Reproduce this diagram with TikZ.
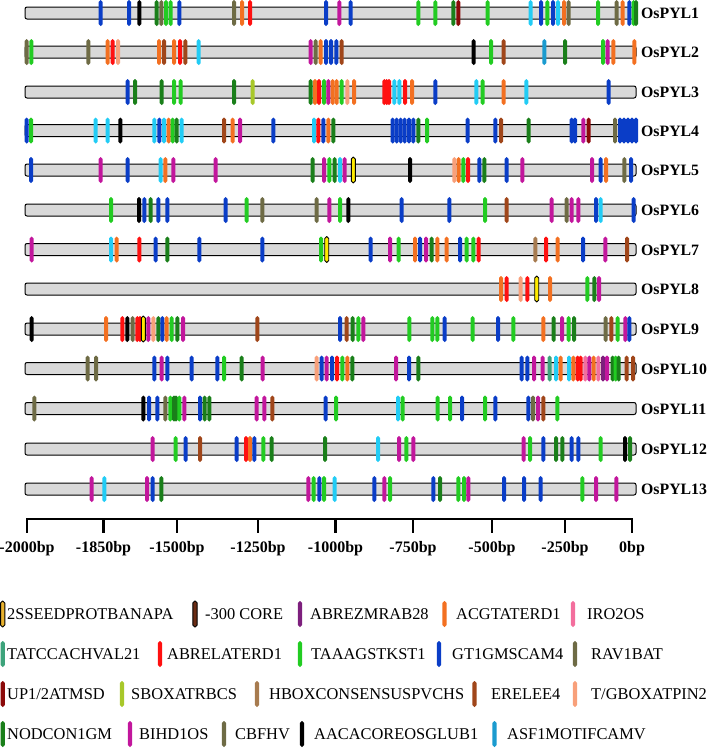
\documentclass[tikz,border=0pt]{standalone}
\usepackage{fontspec}
\setmainfont{Liberation Serif}
\definecolor{cB}{HTML}{0A3DC7}
\definecolor{cG}{HTML}{22CC22}
\definecolor{cD}{HTML}{1A7F1A}
\definecolor{cO}{HTML}{6E6B45}
\definecolor{cR}{HTML}{FF1010}
\definecolor{cOr}{HTML}{F37021}
\definecolor{cM}{HTML}{C2169C}
\definecolor{cC}{HTML}{22CCF5}
\definecolor{cBr}{HTML}{A0461A}
\definecolor{cDR}{HTML}{8B0A0A}
\definecolor{cYG}{HTML}{A8C82A}
\definecolor{cS}{HTML}{F8A07A}
\definecolor{cY}{HTML}{FFEB00}
\definecolor{cSeed}{HTML}{E9B22E}
\definecolor{cCore}{HTML}{6A2C14}
\definecolor{cT}{HTML}{3DA37B}
\definecolor{cP}{HTML}{F36E9D}
\definecolor{cPu}{HTML}{7D1F7D}
\definecolor{cTn}{HTML}{A77B4F}
\definecolor{cA}{HTML}{1B9BCF}
\definecolor{cK}{HTML}{000000}
\definecolor{barg}{HTML}{D9D9D9}
\tikzset{
  mkr/.style={rounded corners=1.95pt},
  mB/.style={fill=cB}, mG/.style={fill=cG}, mD/.style={fill=cD},
  mO/.style={fill=cO}, mR/.style={fill=cR}, mOr/.style={fill=cOr},
  mM/.style={fill=cM}, mC/.style={fill=cC}, mBr/.style={fill=cBr},
  mDR/.style={fill=cDR}, mYG/.style={fill=cYG}, mS/.style={fill=cS},
  mY/.style={fill=cY, draw=black, line width=0.9pt},
  mSeed/.style={fill=cSeed, draw=black, line width=0.9pt},
  mCore/.style={fill=cCore, draw=black, line width=0.9pt},
  mT/.style={fill=cT}, mP/.style={fill=cP}, mPu/.style={fill=cPu},
  mTn/.style={fill=cTn}, mA/.style={fill=cA}, mK/.style={fill=cK},
  bar/.style={draw=black, line width=1pt, fill=barg, rounded corners=2pt,
    minimum width=611pt, minimum height=12pt, inner sep=0pt},
  rowlab/.style={anchor=base west, inner sep=0pt, font=\fontsize{15.8}{16}\selectfont\bfseries},
  axlab/.style={anchor=base, inner sep=0pt, font=\fontsize{16}{16}\selectfont\bfseries},
  leglab/.style={anchor=base west, inner sep=0pt, font=\fontsize{16.4}{17}\selectfont},
  axisline/.style={line width=2.6pt, line cap=rect},
}
\newcommand\mrow[2]{%
  \foreach \xx/\cc in {#2} {\path[mkr,\cc] (\xx-2.0,#1-13) rectangle (\xx+2.0,#1+13);}}
\newcommand\legmk[3]{\path[mkr,#3] (#1-2.1,#2-13) rectangle (#1+2.1,#2+13);}
\begin{document}
\begin{tikzpicture}[x=1pt,y=-1pt]
\useasboundingbox (0,0) rectangle (709,748);
% bars
\foreach \i/\yy in {1/13,2/52,3/92,4/130.5,5/170,6/210,7/249.5,8/289,9/329,10/368.5,11/408.5,12/449,13/489}{
  \node[bar] (bar\i) at (330.5,\yy) {};
  \node[rowlab] (lab\i) at (641,\yy+5.8) {OsPYL\i};
}
% row 1
\mrow{13}{100.7/mB,129/mB,139.3/mK,156.7/mD,161.3/mO,166/mG,170.7/mG,179.3/mB,234/mO,242/mOr,250/mR,326/mB,339.3/mM,350.7/mB,418.3/mG,435.3/mG,453.3/mD,458.3/mDR,487.7/mG,530.7/mC,541/mB,547.3/mG,553/mB,558/mC,564/mOr,568.7/mO,598/mG,616.7/mO,622.7/mOr,629.3/mB,633.7/mG,636/mD}
% row 2
\mrow{52}{26.7/mO,31.3/mG,88.3/mO,107.7/mOr,112.7/mR,118/mS,159/mOr,164/mBr,174/mOr,180/mR,185.3/mBr,198.7/mC,310.7/mM,315.7/mO,320.7/mOr,326/mB,331/mB,336.3/mB,341.7/mBr,473.7/mK,491/mG,503.7/mBr,544.3/mA,565/mD,603/mG,607.7/mM,613.3/mOr,634.3/mOr}
% row 3
\mrow{92}{127.7/mB,135/mD,161.7/mD,174/mG,180.7/mG,234/mD,252.7/mYG,310.7/mD,315/mOr,319/mR,324/mG,328.3/mM,332.7/mOr,336.7/mOr,341.7/mG,347.3/mS,354/mOr,384.3/mR,386.7/mR,389/mR,394.3/mC,399.3/mC,405/mR,412/mOr,435.3/mB,476.3/mC,482.7/mG,503.7/mOr,526.3/mC,608.7/mB}
% row 4
\mrow{130.5}{26.7/mB,31/mG,95.7/mC,107.7/mC,120.3/mK,154.3/mC,159.3/mB,164/mC,168.7/mOr,172.7/mG,176.7/mD,181.7/mC,224/mBr,232.7/mOr,240/mM,273.3/mB,314/mC,318.3/mR,323.3/mB,328.3/mOr,333.3/mD,392.7/mB,396.7/mB,400.7/mB,404.7/mB,409/mB,413.3/mB,418.3/mD,427/mG,467.7/mB,495.3/mB,501/mBr,528.7/mD,571.7/mB,575/mB,583.3/mM,588.7/mDR,615/mO,620/mB,624/mB,628/mB,632/mB,636/mB}
% row 5
\mrow{170}{31/mB,100.7/mM,127.7/mB,160.7/mC,165.3/mOr,173.3/mM,215.7/mM,312.7/mD,324/mM,329.3/mG,334.7/mD,340/mC,344.7/mM,353.3/mY,410/mK,454.3/mS,458.7/mOr,463.3/mG,468/mR,479.3/mB,484.3/mD,506.7/mB,522.3/mM,592/mM,600.7/mB,606/mOr,624.3/mO,631/mB}
% row 6
\mrow{210}{111/mG,139/mK,144.3/mB,150.7/mD,158.3/mB,167.3/mB,225.7/mB,246.7/mG,262.3/mO,316.7/mO,329.3/mM,340/mG,348.3/mK,401.7/mB,449.3/mB,485/mG,506.7/mBr,551.7/mM,566.7/mO,571.7/mM,578.3/mM,596/mB,600.7/mC,633.7/mB}
% row 7
\mrow{249.5}{31.7/mM,111/mC,116.7/mOr,139.3/mR,155.7/mB,167.3/mD,199.3/mB,262.3/mB,321/mG,326.7/mY,370.7/mB,390/mM,398.7/mG,415/mOr,420/mB,426/mM,431.7/mD,437.3/mOr,446.7/mOr,460/mB,466.7/mG,473.3/mG,478.7/mR,535.3/mTn,546/mR,557.7/mOr,583/mB,605.3/mM,627/mBr}
% row 8
\mrow{289}{501/mOr,506.7/mR,520.7/mS,527.3/mR,536.7/mY,550/mOr,587.3/mG,594.3/mD,599/mM}
% row 9
\mrow{329}{31.7/mK,106/mOr,122.3/mR,127.3/mK,132.7/mO,137.3/mR,140/mR,143.3/mY,148.3/mM,153.3/mS,158.3/mD,162.3/mB,166.7/mOr,171.7/mG,177.3/mD,183/mM,257.3/mBr,340/mB,346.7/mBr,352.7/mD,358.3/mG,363.3/mM,409.3/mG,432.3/mG,437.3/mG,444.7/mB,472.7/mG,498/mB,513.3/mG,543.3/mOr,553.7/mD,562/mM,568.7/mG,574/mD,605.7/mO,611.3/mBr,617.7/mG,625.3/mM,629.3/mB}
% row 10
\mrow{368.5}{87.7/mO,96/mO,154.3/mB,161.7/mM,167.3/mB,191.7/mB,217.3/mB,224/mG,241.7/mD,262.7/mM,316.7/mS,321.7/mB,326.7/mM,332/mB,337/mR,342.3/mG,347.3/mOr,352.3/mD,396/mM,409/mB,418.3/mD,521.7/mB,527.3/mB,534/mM,542.7/mM,549.7/mT,556/mC,560.7/mOr,569/mC,573.3/mOr,577.7/mR,580.7/mR,585.3/mP,589.3/mM,593.7/mOr,598.3/mP,603/mPu,607/mM,612.7/mD,615.7/mG,618.7/mD,626.7/mBr,633/mBr}
% row 11
\mrow{408.5}{34.3/mO,143.3/mK,149/mB,157.3/mB,165.3/mO,170.3/mG,174/mD,176/mD,179.3/mG,184.3/mM,200/mB,204.7/mD,209.3/mD,256.7/mM,264.3/mM,272.3/mBr,325.7/mB,336/mG,398/mC,402.7/mG,437.7/mG,450/mG,462/mB,485/mG,495.3/mB,528.3/mB,533/mO,538/mM,543.3/mBr,557.3/mG}
% row 12
\mrow{449}{152.7/mM,175.7/mG,185.7/mB,200/mBr,236.7/mB,246/mR,250/mOr,254.3/mB,263.3/mG,271.7/mD,325/mD,378/mC,399/mM,406.3/mG,413.3/mM,523.7/mM,530/mG,543.3/mB,556/mD,562.3/mD,571.7/mB,578.3/mB,600.7/mG,625/mK,630/mD}
% row 13
\mrow{489}{91.7/mM,104.3/mC,147/mM,152.7/mB,161.3/mD,308.3/mM,313.7/mG,319.3/mB,324/mG,334.7/mC,374.3/mB,384.3/mM,390/mG,433.3/mB,440/mD,458.3/mG,464/mG,468.3/mM,504/mB,524/mB,540.7/mB,582.3/mG,596/mM,616.3/mM}
% axis
\coordinate (a0) at (27,519);
\coordinate (a8) at (632,519);
\draw[axisline] (a0) -- (a8);
\foreach \k/\tx/\tl in {0/27/-2000bp,1/103.5/-1850bp,2/177/-1500bp,3/258/-1250bp,4/335.5/-1000bp,5/413/-750bp,6/492/-500bp,7/565/-250bp,8/632/0bp}{
  \coordinate (t\k) at (\tx,519);
  \coordinate (tb\k) at (\tx,532);
  \draw[axisline] (t\k) -- (tb\k);
  \node[axlab] (tl\k) at (\tx,552.5) {\tl};
}
% legend
\foreach \lx/\ly/\ls/\tx/\tt [count=\n] in {
  2.7/614/mSeed/7/{2SSEEDPROTBANAPA}, 195/614/mCore/205/{-300 CORE}, 300/614/mPu/310/{ABREZMRAB28}, 444.5/614/mOr/456/{ACGTATERD1}, 573/614/mP/587/{IRO2OS},
  2.7/654/mT/7/{TATCCACHVAL21}, 160/654/mR/167/{ABRELATERD1}, 300/654/mG/311/{TAAAGSTKST1}, 439/654/mB/452/{GT1GMSCAM4}, 575/654/mO/591/{RAV1BAT},
  2.7/694/mDR/7/{UP1/2ATMSD}, 122/694/mYG/131/{SBOXATRBCS}, 257/694/mTn/269/{HBOXCONSENSUSPVCHS}, 474.5/694/mBr/491/{ERELEE4}, 575/694/mS/591/{T/GBOXATPIN2},
  2.7/734/mD/7/{NODCON1GM}, 130/734/mM/139/{BIHD1OS}, 224/734/mO/235/{CBFHV}, 302/734/mK/314/{AACACOREOSGLUB1}, 494.5/734/mA/507/{ASF1MOTIFCAMV}}{
  \legmk{\lx}{\ly}{\ls}
  \node[leglab] (leg\n) at (\tx,\ly+5.4) {\tt};
}
\end{tikzpicture}
\end{document}
